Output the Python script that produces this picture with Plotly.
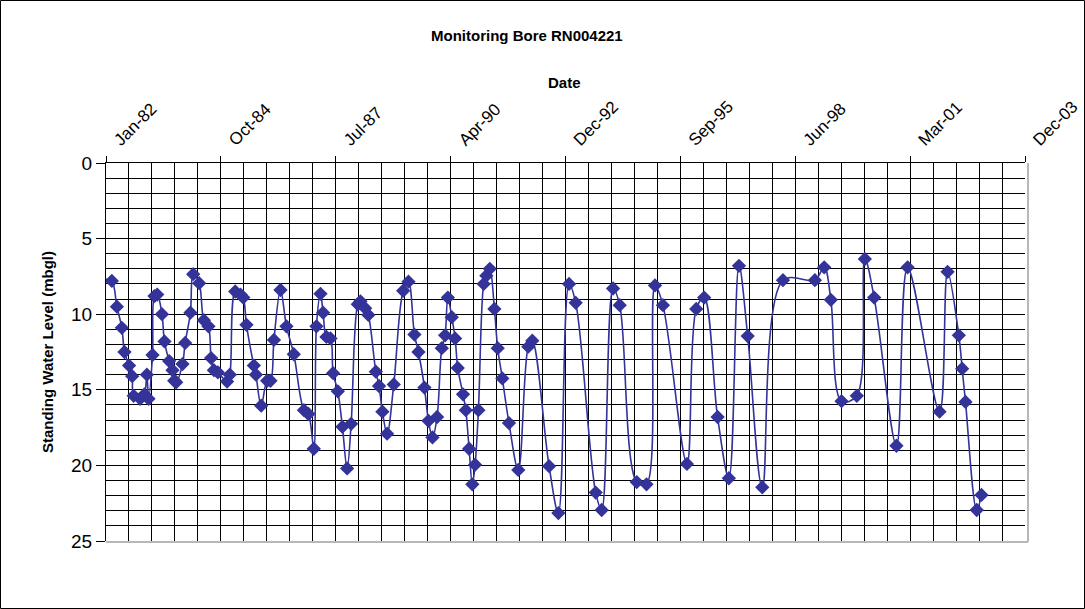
import datetime as dt
import plotly.graph_objects as go

# Standing water level readings (metres below ground level)
dates = [
    "1982-01-12", "1982-03-07", "1982-04-20", "1982-06-02", "1982-06-25", "1982-08-04",
    "1982-08-31", "1982-09-13", "1982-11-08", "1982-12-15", "1983-01-06", "1983-01-20",
    "1983-02-24", "1983-03-13", "1983-04-06", "1983-05-17", "1983-06-08", "1983-07-19",
    "1983-08-17", "1983-09-01", "1983-09-18", "1983-11-12", "1983-12-05", "1984-01-20",
    "1984-02-13", "1984-04-05", "1984-05-16", "1984-06-25", "1984-07-18", "1984-08-11",
    "1984-09-15", "1984-12-04", "1984-12-28", "1985-02-13", "1985-03-31", "1985-04-24",
    "1985-05-22", "1985-07-25", "1985-08-12", "1985-09-27", "1985-11-18", "1985-12-17",
    "1986-01-16", "1986-03-14", "1986-05-05", "1986-07-08", "1986-10-04", "1986-11-12",
    "1986-12-29", "1987-01-21", "1987-02-25", "1987-03-20", "1987-04-18", "1987-05-23",
    "1987-06-15", "1987-07-26", "1987-09-04", "1987-10-15", "1987-11-19", "1988-01-16",
    "1988-02-08", "1988-03-20", "1988-04-17", "1988-06-21", "1988-07-19", "1988-08-17",
    "1988-09-27", "1988-11-24", "1989-02-14", "1989-04-01", "1989-05-23", "1989-06-27",
    "1989-08-18", "1989-09-22", "1989-10-27", "1989-12-06", "1990-01-16", "1990-02-14",
    "1990-03-10", "1990-04-13", "1990-05-12", "1990-06-04", "1990-07-20", "1990-08-13",
    "1990-09-11", "1990-10-09", "1990-11-02", "1990-12-01", "1991-01-16", "1991-02-08",
    "1991-03-10", "1991-04-19", "1991-05-18", "1991-06-27", "1991-08-24", "1991-11-13",
    "1992-02-08", "1992-03-14", "1992-08-07", "1992-10-27", "1993-01-28", "1993-03-27",
    "1993-09-17", "1993-11-08", "1994-02-15", "1994-04-14", "1994-09-09", "1994-12-03",
    "1995-02-15", "1995-04-25", "1995-11-20", "1996-02-09", "1996-04-18", "1996-08-13",
    "1996-11-19", "1997-02-15", "1997-05-02", "1997-09-06", "1998-03-05", "1998-12-08",
    "1999-02-27", "1999-04-26", "1999-07-28", "1999-12-08", "2000-02-16", "2000-05-07",
    "2000-11-17", "2001-02-22", "2001-11-27", "2002-02-05", "2002-05-14", "2002-06-12",
    "2002-07-11", "2002-10-17", "2002-11-27",
]
swl = [
    7.7, 7.8, 9.5, 10.9, 12.5, 13.4,
    14.1, 15.4, 15.6, 15.3, 14.0, 15.6,
    12.7, 8.8, 8.7, 10.0, 11.8, 13.1,
    13.7, 14.4, 14.5, 13.3, 11.9, 9.9,
    7.35, 7.95, 10.4, 10.8, 12.9, 13.7,
    13.85, 14.45, 14.0, 8.5, 8.7, 8.9,
    10.7, 13.4, 14.0, 16.05, 14.4, 14.4,
    11.7, 8.4, 10.8, 12.65, 16.35, 16.6,
    18.9, 10.8, 8.65, 9.9, 11.5, 11.6,
    13.9, 15.1, 17.45, 20.2, 17.25, 9.35,
    9.15, 9.6, 10.05, 13.8, 14.75, 16.45,
    17.9, 14.65, 8.45, 7.85, 11.35, 12.5,
    14.85, 17.05, 18.15, 16.8, 12.25, 11.4,
    8.9, 10.2, 11.6, 13.55, 15.3, 16.35,
    18.9, 21.25, 19.95, 16.35, 8.0, 7.45,
    7.0, 9.65, 12.25, 14.25, 17.2, 20.3,
    12.15, 11.75, 20.05, 23.15, 8.0, 9.25,
    21.8, 22.95, 8.3, 9.4, 21.1, 21.25,
    8.1, 9.4, 19.9, 9.65, 8.9, 16.8,
    20.85, 6.8, 11.45, 21.45, 7.75, 7.75,
    6.9, 9.05, 15.75, 15.4, 6.35, 8.9,
    18.7, 6.9, 16.45, 7.2, 11.4, 13.6,
    15.8, 22.95, 21.95,
]

# Date axis: major ticks every 1000 days, minor grid every 200 days
axis_start = dt.date(1982, 1, 15)
axis_end = axis_start + dt.timedelta(days=8000)
DAY_MS = 86400000

W, H = 1085, 609
L, R, T, B = 106, 60, 163, 68
plot_w = W - L - R
plot_h = H - T - B

blue = "#333399"
font_family = "Arial, Liberation Sans, sans-serif"

fig = go.Figure()
fig.add_trace(go.Scatter(
    x=dates, y=swl, mode="lines+markers",
    line=dict(color=blue, width=1.6, shape="spline", smoothing=1.0),
    marker=dict(symbol="diamond", size=11, color=blue),
    cliponaxis=False,
    showlegend=False,
))

fig.update_layout(
    width=W, height=H,
    autosize=False,
    margin=dict(l=L, r=R, t=T, b=B, autoexpand=False),
    paper_bgcolor="white", plot_bgcolor="white",
    font=dict(family=font_family, color="black"),
    xaxis=dict(
        type="date", side="top", automargin=False,
        range=[axis_start.isoformat(), axis_end.isoformat()],
        tick0=axis_start.isoformat(), dtick=1000 * DAY_MS,
        tickformat="%b-%y", tickangle=-45,
        tickfont=dict(size=17),
        ticklabelshift=9,
        ticks="outside", ticklen=6, tickcolor="black",
        showline=True, linecolor="black", linewidth=1,
        showgrid=True, gridcolor="black", gridwidth=1,
        minor=dict(tick0=axis_start.isoformat(), dtick=200 * DAY_MS,
                   showgrid=True, gridcolor="black", gridwidth=1),
        zeroline=False,
    ),
    yaxis=dict(
        range=[25, 0], dtick=5, automargin=False,
        tickfont=dict(size=19),
        ticks="outside", ticklen=9, tickcolor="black",
        showline=True, linecolor="black", linewidth=1,
        showgrid=True, gridcolor="black", gridwidth=1,
        minor=dict(dtick=1, showgrid=True, gridcolor="black", gridwidth=1),
        zeroline=False,
    ),
)

def px_x(p):
    return (p - L) / plot_w

def px_y(p):
    return (H - B - p) / plot_h

# Chart-area frame and grey plot-area edges
fig.add_shape(type="rect", xref="paper", yref="paper",
              x0=px_x(0.5), x1=px_x(W - 0.5), y0=px_y(H - 0.5), y1=px_y(0.5),
              line=dict(color="black", width=1), layer="above")
fig.add_shape(type="line", xref="paper", yref="paper",
              x0=px_x(W - R + 3), x1=px_x(W - R + 3), y0=px_y(T), y1=px_y(H - B + 1),
              line=dict(color="#b8b8b8", width=2), layer="above")
fig.add_shape(type="line", xref="paper", yref="paper",
              x0=0, x1=px_x(W - R + 3), y0=px_y(H - B + 1), y1=px_y(H - B + 1),
              line=dict(color="#b8b8b8", width=2), layer="above")

title_font = dict(size=15, family=font_family)
fig.add_annotation(text="<b>Monitoring Bore RN004221</b>", xref="paper", yref="paper",
                   x=px_x(527), y=px_y(36), xanchor="center", yanchor="middle",
                   showarrow=False, font=title_font)
fig.add_annotation(text="<b>Date</b>", xref="paper", yref="paper",
                   x=px_x(564), y=px_y(82), xanchor="center", yanchor="middle",
                   showarrow=False, font=title_font)
fig.add_annotation(text="<b>Standing Water Level (mbgl)</b>", xref="paper", yref="paper",
                   x=px_x(47), y=px_y(352), xanchor="center", yanchor="middle",
                   showarrow=False, textangle=-90, font=title_font)

fig.write_html("out.html")
